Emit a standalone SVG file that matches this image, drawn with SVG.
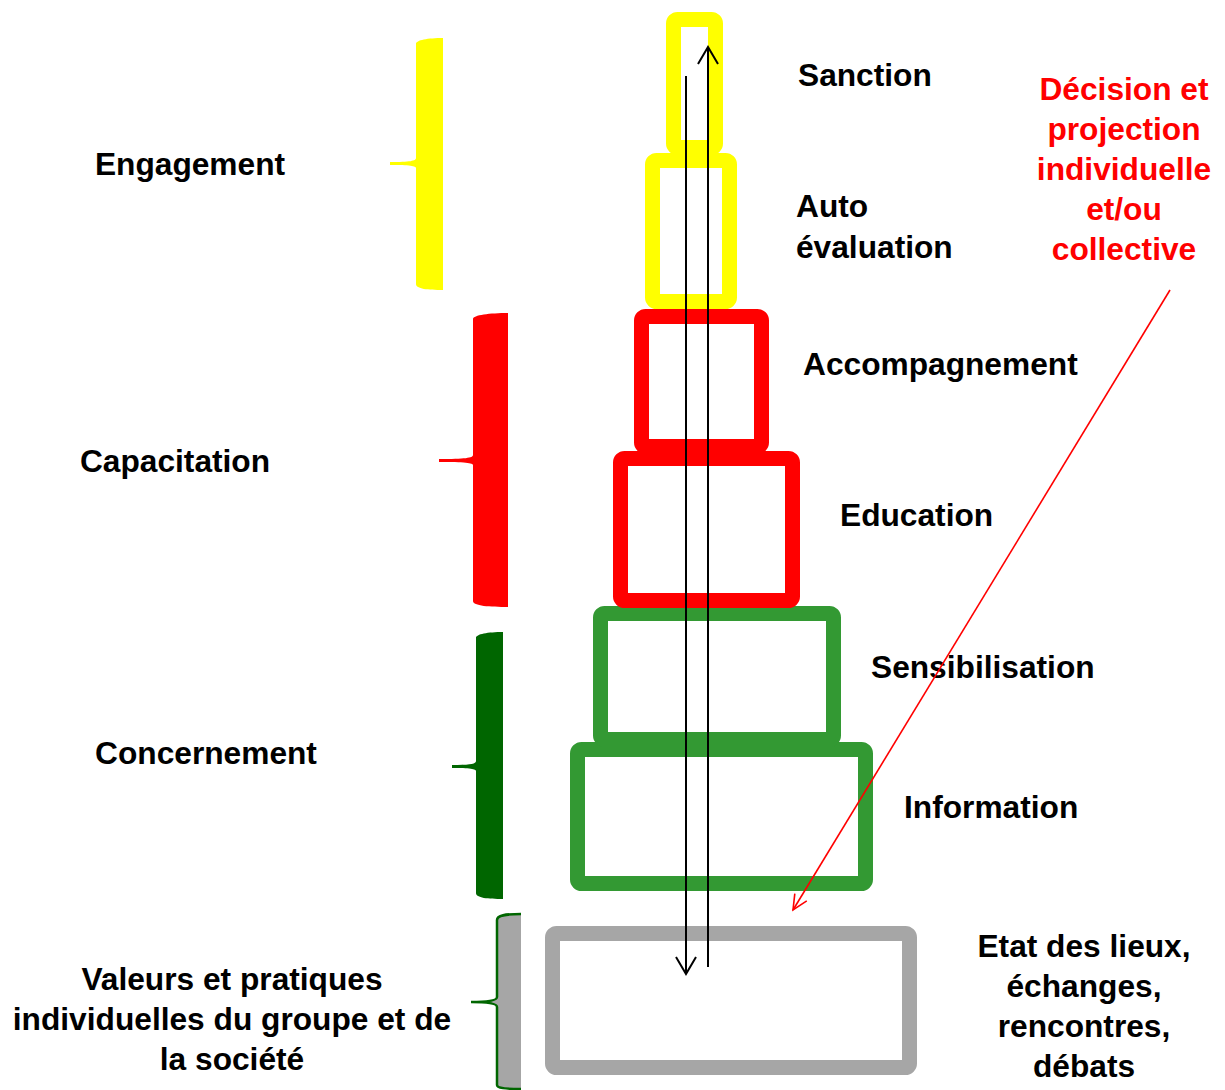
<svg xmlns="http://www.w3.org/2000/svg" width="1225" height="1090" viewBox="0 0 1225 1090">
<style>
text{font-family:"Liberation Sans",Arial,sans-serif;font-weight:bold;font-size:31.7px;fill:#000}
.red{fill:#FF0000}
.box{fill:none;stroke-width:15}
.y{stroke:#FFFF00}.r{stroke:#FF0000}.g{stroke:#339933}.gr{stroke:#A6A6A6}
.mid{text-anchor:middle}
</style>
<defs>
<marker id="ak" markerUnits="userSpaceOnUse" viewBox="0 0 20 22" refX="18" refY="11" markerWidth="20" markerHeight="22" orient="auto">
<path d="M1,1 L18,11 L1,21" fill="none" stroke="#000" stroke-width="2"/>
</marker>
<marker id="ar" markerUnits="userSpaceOnUse" viewBox="0 0 18 16" refX="16" refY="8" markerWidth="18" markerHeight="16" orient="auto">
<path d="M1,1 L16,8 L1,15" fill="none" stroke="#FF0000" stroke-width="1.6"/>
</marker>
</defs>
<rect width="1225" height="1090" fill="#fff"/>

<g id="bracket-engagement">
<path d="M443,38 L443,290 C428,290 416,289 416,284 L416,168 C416,166 410,165 390,165 L390,162 C410,162 416,161 416,158 L416,44 C416,40 428,38 443,38 Z" fill="#FFFF00"/>
<text x="190" y="175" class="mid">Engagement</text>
</g>
<g id="bracket-capacitation">
<path d="M508,313 L508,607 C490,607 473,606 473,601 L473,465 C473,463 465,462 439,462 L439,459 C465,459 473,458 473,455 L473,319 C473,315 490,313 508,313 Z" fill="#FF0000"/>
<text x="175" y="472" class="mid">Capacitation</text>
</g>
<g id="bracket-concernement">
<path d="M503,632 L503,899 C488,899 476,898 476,893 L476,771 C476,769 470,768 452,768 L452,765 C470,765 476,764 476,761 L476,638 C476,634 488,632 503,632 Z" fill="#006600"/>
<text x="206" y="764" class="mid">Concernement</text>
</g>
<g id="bracket-valeurs">
<path d="M521,914 L521,1089 C505,1089 497,1088 497,1085 L497,1007 C497,1004 490,1002 471,1002 C490,1002 497,1000 497,997 L497,920 C497,915 505,914 521,914 Z" fill="#A6A6A6"/>
<path d="M521,914 C505,914 497,915 497,920 L497,997 C497,1000 490,1002 471,1002 C490,1002 497,1004 497,1007 L497,1085 C497,1088 505,1089 521,1089" fill="none" stroke="#006600" stroke-width="2.5"/>
<text x="232" y="990" class="mid">Valeurs et pratiques</text>
<text x="232" y="1030" class="mid">individuelles du groupe et de</text>
<text x="232" y="1070" class="mid">la société</text>
</g>

<g id="node-etat">
<rect class="box gr" x="552.5" y="933.5" width="357" height="134" rx="4"/>
<text x="1084" y="957" class="mid">Etat des lieux,</text>
<text x="1084" y="997" class="mid">échanges,</text>
<text x="1084" y="1037" class="mid">rencontres,</text>
<text x="1084" y="1077" class="mid">débats</text>
</g>
<g id="node-information">
<rect class="box g" x="577.5" y="749.5" width="288" height="134" rx="4"/>
<text x="904" y="818">Information</text>
</g>
<g id="node-sensibilisation">
<rect class="box g" x="600.5" y="613.5" width="233" height="126" rx="4"/>
<text x="871" y="678">Sensibilisation</text>
</g>
<g id="node-education">
<rect class="box r" x="620.5" y="458.5" width="172" height="142" rx="4"/>
<text x="840" y="526">Education</text>
</g>
<g id="node-accompagnement">
<rect class="box r" x="641.5" y="316.5" width="120" height="130" rx="4"/>
<text x="803" y="375">Accompagnement</text>
</g>
<g id="node-autoevaluation">
<rect class="box y" x="652.5" y="160.5" width="77" height="141" rx="4"/>
<text x="796" y="217">Auto</text>
<text x="796" y="258">évaluation</text>
</g>
<g id="node-sanction">
<rect class="box y" x="673.5" y="19.5" width="42" height="128" rx="4"/>
<text x="798" y="86">Sanction</text>
</g>
<g id="label-decision">
<text x="1124" y="100" class="mid red">Décision et</text>
<text x="1124" y="140" class="mid red">projection</text>
<text x="1124" y="180" class="mid red">individuelle</text>
<text x="1124" y="220" class="mid red">et/ou</text>
<text x="1124" y="260" class="mid red">collective</text>
</g>

<g id="connectors">
<path d="M686,76 L686,974" fill="none" stroke="#000" stroke-width="2" marker-end="url(#ak)"/>
<path d="M708,967 L708,47" fill="none" stroke="#000" stroke-width="2" marker-end="url(#ak)"/>
<path d="M1170,290 L793,910" fill="none" stroke="#FF0000" stroke-width="1.6" marker-end="url(#ar)"/>
</g>
</svg>
